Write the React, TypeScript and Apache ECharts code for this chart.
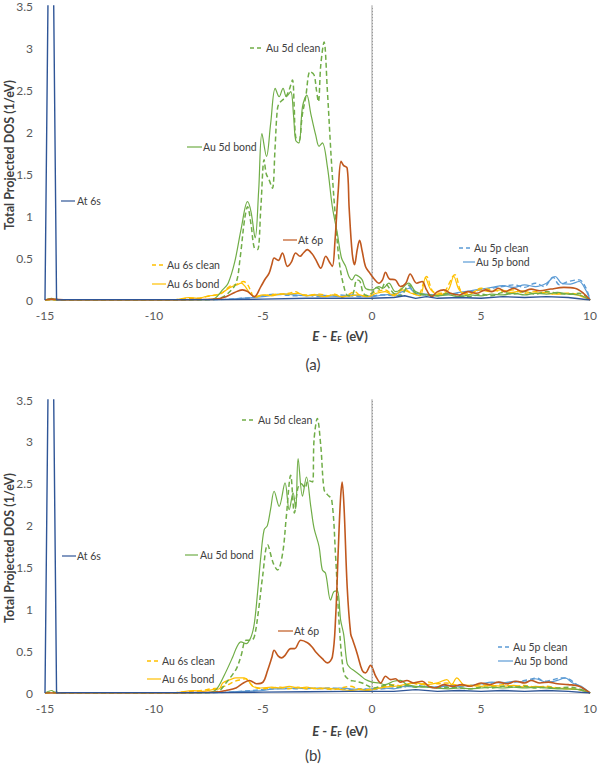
import React, { useEffect, useRef } from "react";
import * as echarts from "echarts";

// ---------- DATA: [E - EF (eV), DOS (1/eV)] ----------
const energyTicks = [-15, -10, -5, 0, 5, 10];
const dosTicks = [0, 0.5, 1, 1.5, 2, 2.5, 3, 3.5];

// Panel (a)
const at6sA = [[-15,0],[-14.97,0],[-14.73,7],[-14.47,0],[-14,0.005],[-10,0.005],[-7,0.005],[-5,0.01],[-3,0.02],[-1,0.02],[0,0.02],[1,0.03],[1.5,0.05],[2,0.02],[2.5,0.04],[3,0.02],[4,0.03],[5,0.02],[6,0.04],[7,0.03],[8,0.04],[9,0.03],[10,0]];
const at6pA = [[-15,0],[-14.7,0.01],[-14,0],[-10,0],[-8,0.005],[-7.2,0.01],[-6.7,0.04],[-6.3,0.09],[-5.95,0.12],[-5.7,0.1],[-5.4,0.04],[-5.1,0.16],[-4.9,0.25],[-4.72,0.32],[-4.6,0.42],[-4.49,0.5],[-4.3,0.47],[-4.11,0.56],[-3.88,0.4],[-3.7,0.45],[-3.5,0.56],[-3.3,0.52],[-3.15,0.56],[-2.97,0.6],[-2.75,0.55],[-2.58,0.48],[-2.35,0.38],[-2.12,0.52],[-1.95,0.45],[-1.82,0.4],[-1.7,0.7],[-1.55,1.3],[-1.42,1.65],[-1.3,1.6],[-1.14,1.57],[-1.05,1.1],[-0.91,0.56],[-0.8,0.42],[-0.68,0.6],[-0.57,0.71],[-0.45,0.58],[-0.3,0.4],[-0.1,0.32],[0.1,0.25],[0.31,0.2],[0.48,0.24],[0.62,0.33],[0.8,0.25],[1.07,0.24],[1.3,0.16],[1.55,0.2],[1.75,0.31],[2.05,0.2],[2.3,0.22],[2.5,0.12],[2.74,0.04],[3.0,0.1],[3.3,0.12],[3.6,0.08],[4.0,0.06],[4.4,0.1],[4.8,0.08],[5.2,0.12],[5.5,0.1],[5.8,0.14],[6.1,0.1],[6.5,0.14],[6.9,0.1],[7.3,0.13],[7.7,0.11],[8.2,0.13],[8.8,0.15],[9.3,0.14],[9.7,0.08],[10,0]];
const au5dCleanA = [[-15,0],[-14.7,0.01],[-14,0],[-10,0],[-7.5,0.005],[-7,0.02],[-6.6,0.08],[-6.24,0.2],[-6.05,0.5],[-5.85,0.95],[-5.71,1.11],[-5.55,0.9],[-5.4,0.62],[-5.25,0.6],[-5.1,1.1],[-4.95,1.67],[-4.85,1.5],[-4.72,1.43],[-4.57,1.33],[-4.45,1.8],[-4.35,2.25],[-4.26,2.34],[-3.95,2.42],[-3.8,2.5],[-3.65,2.62],[-3.57,2.3],[-3.5,1.94],[-3.35,1.9],[-3.2,2.2],[-3.04,2.42],[-2.84,2.72],[-2.66,2.68],[-2.55,2.5],[-2.46,2.36],[-2.35,2.8],[-2.2,3.07],[-2.05,2.5],[-1.85,1.6],[-1.67,0.95],[-1.5,0.45],[-1.29,0.16],[-1.1,0.05],[-0.9,0.06],[-0.69,0.24],[-0.55,0.22],[-0.4,0.08],[-0.2,0.05],[0,0.08],[0.2,0.15],[0.4,0.12],[0.6,0.2],[0.8,0.14],[1.0,0.08],[1.3,0.05],[1.7,0.18],[2.0,0.08],[2.5,0.06],[3,0.05],[3.5,0.08],[4,0.05],[4.5,0.04],[5,0.07],[5.5,0.05],[6,0.09],[6.5,0.07],[7,0.1],[7.5,0.07],[8,0.1],[8.5,0.08],[9,0.07],[9.5,0.08],[10,0]];
const au5dBondA = [[-15,0],[-14.7,0.02],[-14.5,0],[-10,0],[-7.5,0.005],[-7.2,0.02],[-6.86,0.12],[-6.6,0.2],[-6.3,0.45],[-6.0,0.85],[-5.71,1.17],[-5.55,1.05],[-5.36,0.74],[-5.2,1.3],[-5.05,1.98],[-4.84,1.71],[-4.65,2.1],[-4.44,2.52],[-4.26,2.42],[-4.08,2.52],[-3.93,2.42],[-3.73,2.48],[-3.6,2.2],[-3.5,1.9],[-3.35,1.87],[-3.19,2.3],[-2.99,2.44],[-2.81,2.22],[-2.58,1.96],[-2.43,1.83],[-2.28,1.87],[-2.05,1.59],[-1.82,1.11],[-1.59,0.79],[-1.4,0.5],[-1.21,0.4],[-1.06,0.28],[-0.92,0.24],[-0.75,0.3],[-0.6,0.28],[-0.45,0.24],[-0.3,0.14],[0,0.12],[0.31,0.16],[0.5,0.14],[0.77,0.2],[1.07,0.1],[1.3,0.12],[1.68,0.2],[2.0,0.1],[2.5,0.06],[3,0.05],[3.5,0.06],[4,0.04],[4.5,0.06],[5,0.05],[5.5,0.07],[6,0.06],[6.5,0.08],[7,0.06],[7.5,0.08],[8,0.07],[8.5,0.09],[9,0.07],[9.5,0.06],[10,0]];
const au6sCleanA = [[-15,0],[-10,0],[-9,0.005],[-8.5,0.02],[-8,0.02],[-7.6,0.04],[-7.2,0.06],[-6.9,0.08],[-6.54,0.16],[-6.3,0.18],[-6.09,0.2],[-5.9,0.22],[-5.7,0.18],[-5.55,0.1],[-5.4,0.03],[-5.1,0.05],[-4.72,0.06],[-4.3,0.07],[-3.8,0.08],[-3.5,0.1],[-3.2,0.06],[-2.8,0.06],[-2.4,0.07],[-2.0,0.05],[-1.7,0.07],[-1.4,0.03],[-1.1,0.06],[-0.8,0.1],[-0.5,0.05],[-0.2,0.06],[0.2,0.1],[0.6,0.12],[1.0,0.06],[1.4,0.14],[1.7,0.1],[2.1,0.06],[2.5,0.28],[2.8,0.1],[3.2,0.08],[3.8,0.3],[4.1,0.1],[4.5,0.08],[5.0,0.14],[5.5,0.12],[6,0.1],[6.5,0.12],[7,0.08],[7.5,0.1],[8,0.08],[8.5,0.07],[9,0.08],[9.5,0.06],[10,0]];
const au6sBondA = [[-15,0],[-10,0],[-9,0.005],[-8.4,0.03],[-8,0.02],[-7.5,0.05],[-7.1,0.06],[-6.8,0.1],[-6.5,0.15],[-6.2,0.18],[-6.0,0.2],[-5.85,0.17],[-5.6,0.08],[-5.4,0.04],[-5.0,0.06],[-4.6,0.05],[-4.2,0.07],[-3.8,0.07],[-3.4,0.08],[-3.0,0.05],[-2.6,0.06],[-2.2,0.04],[-1.8,0.06],[-1.4,0.04],[-1.0,0.05],[-0.6,0.06],[-0.2,0.04],[0.2,0.08],[0.6,0.1],[1.0,0.05],[1.4,0.12],[1.8,0.08],[2.2,0.05],[2.45,0.26],[2.7,0.12],[3.1,0.06],[3.5,0.12],[3.75,0.28],[4.0,0.12],[4.4,0.06],[4.9,0.12],[5.4,0.1],[5.9,0.12],[6.4,0.09],[6.9,0.11],[7.4,0.08],[7.9,0.09],[8.4,0.07],[8.9,0.08],[9.4,0.06],[10,0]];
const au5pCleanA = [[-15,0],[-10,0],[-7,0.005],[-6,0.02],[-5.5,0.03],[-5,0.05],[-4.5,0.07],[-4,0.06],[-3.5,0.05],[-3,0.06],[-2.5,0.04],[-2,0.05],[-1.5,0.06],[-1,0.05],[-0.5,0.04],[0,0.05],[0.5,0.06],[1,0.05],[1.4,0.08],[1.68,0.16],[2,0.08],[2.5,0.06],[3,0.05],[3.5,0.08],[4,0.07],[4.5,0.1],[5,0.12],[5.5,0.14],[6,0.16],[6.5,0.18],[7,0.15],[7.5,0.2],[7.9,0.16],[8.3,0.27],[8.6,0.18],[9,0.22],[9.5,0.24],[9.8,0.15],[10,0]];
const au5pBondA = [[-15,0],[-10,0],[-7,0.005],[-6,0.02],[-5.5,0.03],[-5,0.04],[-4.5,0.06],[-4,0.07],[-3.5,0.06],[-3,0.05],[-2.5,0.06],[-2,0.05],[-1.5,0.04],[-1,0.06],[-0.5,0.05],[0,0.04],[0.5,0.06],[1,0.07],[1.4,0.1],[1.7,0.14],[2,0.08],[2.5,0.07],[3,0.06],[3.5,0.07],[4,0.09],[4.5,0.11],[5,0.13],[5.5,0.15],[6,0.17],[6.5,0.15],[7,0.18],[7.5,0.16],[8,0.2],[8.4,0.28],[8.7,0.2],[9.1,0.19],[9.5,0.22],[9.8,0.12],[10,0]];

// Panel (b)
const at6sB = [[-15,0],[-14.97,0],[-14.73,7],[-14.47,0],[-14,0.005],[-10,0.005],[-7,0.005],[-5,0.01],[-3,0.015],[-1,0.02],[0,0.02],[1,0.02],[2,0.04],[3,0.02],[4,0.03],[5,0.02],[6,0.03],[7,0.02],[8,0.03],[9,0.02],[10,0]];
const at6pB = [[-15,0],[-14,0],[-10,0],[-8,0.005],[-7.15,0.01],[-6.7,0.03],[-6.24,0.06],[-5.9,0.12],[-5.63,0.15],[-5.45,0.13],[-5.3,0.11],[-5.0,0.13],[-4.79,0.27],[-4.6,0.42],[-4.49,0.51],[-4.3,0.44],[-4.15,0.42],[-3.99,0.45],[-3.73,0.53],[-3.55,0.53],[-3.27,0.63],[-2.96,0.6],[-2.75,0.55],[-2.58,0.49],[-2.28,0.41],[-2.05,0.36],[-1.82,0.43],[-1.67,0.9],[-1.55,1.7],[-1.45,2.3],[-1.37,2.52],[-1.28,2.2],[-1.14,1.27],[-0.98,0.71],[-0.88,0.63],[-0.68,0.47],[-0.45,0.27],[-0.3,0.24],[-0.07,0.33],[0.17,0.2],[0.4,0.12],[0.62,0.2],[0.85,0.16],[1.07,0.17],[1.3,0.13],[1.6,0.15],[1.9,0.12],[2.3,0.14],[2.6,0.08],[2.9,0.06],[3.3,0.1],[3.7,0.08],[4.1,0.1],[4.5,0.08],[5.0,0.12],[5.4,0.1],[5.8,0.13],[6.2,0.11],[6.6,0.14],[7.0,0.12],[7.3,0.15],[7.7,0.12],[8.1,0.13],[8.5,0.11],[9.0,0.1],[9.5,0.08],[10,0]];
const au5dCleanB = [[-15,0],[-14.7,0.01],[-14,0],[-10,0],[-7.5,0.005],[-7.0,0.03],[-6.7,0.12],[-6.4,0.22],[-6.2,0.3],[-6.0,0.45],[-5.78,0.63],[-5.55,0.63],[-5.4,0.67],[-5.2,1.0],[-5.02,1.39],[-4.79,1.77],[-4.53,1.55],[-4.33,1.47],[-4.1,1.67],[-3.93,2.11],[-3.73,2.6],[-3.56,2.15],[-3.4,2.45],[-3.24,2.5],[-3.08,2.45],[-2.92,2.54],[-2.73,2.52],[-2.66,3.02],[-2.51,3.28],[-2.35,2.95],[-2.2,2.43],[-2.05,2.37],[-1.85,2.31],[-1.67,1.63],[-1.5,0.8],[-1.29,0.24],[-1.06,0.16],[-0.76,0.14],[-0.45,0.12],[-0.15,0.08],[0.1,0.06],[0.4,0.08],[0.8,0.1],[1.2,0.07],[1.6,0.09],[2.0,0.07],[2.5,0.08],[3,0.06],[3.5,0.07],[4,0.06],[4.5,0.05],[5,0.07],[5.5,0.06],[6,0.08],[6.5,0.07],[7,0.08],[7.5,0.06],[8,0.07],[8.5,0.06],[9,0.07],[9.5,0.05],[10,0]];
const au5dBondB = [[-15,0],[-14.7,0.03],[-14.5,0],[-10,0],[-7.5,0.005],[-7.15,0.04],[-6.8,0.2],[-6.39,0.43],[-6.2,0.55],[-6.01,0.61],[-5.78,0.59],[-5.55,0.67],[-5.4,0.83],[-5.25,1.2],[-5.1,1.63],[-4.95,1.95],[-4.8,2.0],[-4.65,2.2],[-4.49,2.41],[-4.26,2.23],[-3.99,2.51],[-3.8,2.19],[-3.62,2.39],[-3.5,2.2],[-3.39,2.8],[-3.19,2.35],[-3.01,2.58],[-2.81,2.23],[-2.66,1.97],[-2.43,1.75],[-2.28,1.47],[-2.13,1.43],[-1.9,1.11],[-1.75,1.21],[-1.59,1.22],[-1.44,0.87],[-1.3,0.7],[-1.14,0.35],[-1.0,0.3],[-0.83,0.27],[-0.53,0.21],[-0.3,0.16],[0,0.13],[0.31,0.12],[0.6,0.1],[1.0,0.14],[1.3,0.15],[1.6,0.1],[2.0,0.08],[2.5,0.07],[3,0.06],[3.5,0.05],[4,0.06],[4.5,0.05],[5,0.06],[5.5,0.07],[6,0.06],[6.5,0.07],[7,0.06],[7.5,0.07],[8,0.06],[8.5,0.05],[9,0.05],[9.5,0.04],[10,0]];
const au6sCleanB = [[-15,0],[-10,0],[-9,0.005],[-8.3,0.02],[-7.8,0.03],[-7.4,0.05],[-7.0,0.06],[-6.6,0.1],[-6.3,0.14],[-6.0,0.16],[-5.8,0.17],[-5.6,0.12],[-5.4,0.07],[-5.0,0.05],[-4.6,0.06],[-4.2,0.07],[-3.8,0.05],[-3.4,0.07],[-3.0,0.05],[-2.6,0.06],[-2.2,0.05],[-1.8,0.04],[-1.4,0.06],[-1.0,0.08],[-0.6,0.05],[-0.2,0.04],[0.2,0.06],[0.6,0.08],[1.0,0.1],[1.4,0.08],[1.8,0.12],[2.2,0.1],[2.6,0.13],[3.0,0.11],[3.4,0.12],[3.8,0.1],[4.2,0.09],[4.6,0.08],[5.0,0.1],[5.5,0.08],[6.0,0.1],[6.5,0.08],[7,0.09],[7.5,0.07],[8,0.08],[8.5,0.06],[9,0.05],[9.5,0.04],[10,0]];
const au6sBondB = [[-15,0],[-10,0],[-9,0.005],[-8.2,0.03],[-7.8,0.02],[-7.3,0.04],[-7.0,0.05],[-6.85,0.12],[-6.5,0.16],[-6.24,0.18],[-5.86,0.18],[-5.65,0.14],[-5.48,0.08],[-5.1,0.06],[-4.6,0.07],[-4.2,0.06],[-3.8,0.08],[-3.4,0.06],[-3.0,0.07],[-2.6,0.05],[-2.2,0.06],[-1.8,0.05],[-1.4,0.04],[-1.0,0.03],[-0.6,0.04],[-0.2,0.03],[0.2,0.05],[0.6,0.07],[1.0,0.08],[1.5,0.1],[2.0,0.12],[2.5,0.1],[3.0,0.12],[3.43,0.16],[3.65,0.1],[3.89,0.18],[4.2,0.1],[4.6,0.09],[5.0,0.08],[5.5,0.09],[6.0,0.08],[6.5,0.09],[7,0.07],[7.5,0.08],[8,0.07],[8.5,0.06],[9,0.05],[9.5,0.04],[10,0]];
const au5pCleanB = [[-15,0],[-10,0],[-7,0.005],[-6,0.02],[-5,0.04],[-4.5,0.05],[-4,0.06],[-3.5,0.05],[-3,0.06],[-2.5,0.05],[-2,0.06],[-1.5,0.05],[-1,0.04],[-0.5,0.05],[0,0.04],[0.5,0.05],[1,0.06],[1.5,0.07],[1.9,0.12],[2.3,0.08],[2.8,0.07],[3.3,0.08],[3.8,0.07],[4.3,0.08],[4.8,0.1],[5.3,0.11],[5.8,0.13],[6.3,0.12],[6.8,0.14],[7.2,0.16],[7.55,0.18],[7.9,0.14],[8.3,0.16],[8.7,0.18],[9.0,0.17],[9.4,0.1],[10,0]];
const au5pBondB = [[-15,0],[-10,0],[-7,0.005],[-6,0.02],[-5,0.03],[-4.5,0.05],[-4,0.05],[-3.5,0.06],[-3,0.05],[-2.5,0.06],[-2,0.05],[-1.5,0.06],[-1,0.05],[-0.5,0.04],[0,0.05],[0.5,0.06],[1,0.05],[1.5,0.08],[2,0.07],[2.5,0.08],[3,0.07],[3.5,0.09],[4,0.08],[4.5,0.09],[5,0.11],[5.5,0.13],[6,0.12],[6.5,0.14],[7,0.13],[7.5,0.17],[8,0.13],[8.5,0.15],[8.85,0.18],[9.2,0.12],[9.6,0.08],[10,0]];

// ---------- STYLE ----------
const C_AT6S = "#2F5597";
const C_AT6P = "#C0581E";
const C_5D = "#70AD47";
const C_6S = "#FFC000";
const C_5P = "#5B9BD5";
const FONT = "Lato, 'Open Sans', sans-serif";
const TXT = "#404040";

function line(name: string, data: number[][], color: string, dashed: boolean, width: number, idx: number, smooth: number | boolean = 0.35) {
  return {
    type: "line",
    name,
    data,
    xAxisIndex: idx,
    yAxisIndex: idx,
    showSymbol: false,
    symbol: "none",
    smooth,
    clip: true,
    lineStyle: { color, width, type: dashed ? [5, 3] : "solid" },
    emphasis: { disabled: true },
    silent: true,
  };
}

function panelSeries(idx: number, d: any) {
  return [
    line("Au 5p clean", d.p5c, C_5P, true, 1.4, idx),
    line("Au 5p bond", d.p5b, C_5P, false, 1.2, idx),
    line("Au 6s clean", d.s6c, C_6S, true, 1.4, idx),
    line("Au 6s bond", d.s6b, C_6S, false, 1.2, idx),
    line("Au 5d clean", d.d5c, C_5D, true, 1.5, idx),
    line("Au 5d bond", d.d5b, C_5D, false, 1.2, idx),
    line("At 6p", d.p6, C_AT6P, false, 1.6, idx),
    {
      ...line("At 6s", d.s6, C_AT6S, false, 1.4, idx, false),
      markLine: {
        symbol: "none",
        silent: true,
        label: { show: false },
        lineStyle: { color: "#9A9A9A", type: [1, 2], width: 1 },
        data: [{ xAxis: 0 }],
      },
    },
  ];
}

function legendItem(x1: number, x2: number, y: number, color: string, dashed: boolean, text: string, tx: number) {
  return [
    {
      type: "line",
      shape: { x1, y1: y, x2, y2: y },
      style: { stroke: color, lineWidth: dashed ? 1.5 : 1.2, lineDash: dashed ? [4, 3] : null },
      silent: true,
    },
    {
      type: "text",
      x: tx,
      y,
      style: { text, fill: TXT, font: `10.5px ${FONT}`, textVerticalAlign: "middle", verticalAlign: "middle" },
      silent: true,
    },
  ];
}

function xTitle(y: number) {
  return {
    type: "text",
    x: 340,
    y,
    style: {
      text: "{i|E} - {i|E}{s|F} (eV)",
      align: "center",
      verticalAlign: "middle",
      fill: TXT,
      font: `bold 13px ${FONT}`,
      rich: {
        i: { fontStyle: "italic", fontWeight: "bold", fontSize: 13, fontFamily: FONT, fill: TXT },
        s: { fontWeight: "bold", fontSize: 8, fontFamily: FONT, fill: TXT, padding: [6, 1, 0, 0] },
      },
    },
    silent: true,
  };
}

function yTitle(y: number) {
  return {
    type: "text",
    x: 9,
    y,
    rotation: Math.PI / 2,
    style: {
      text: "Total Projected DOS (1/eV)",
      align: "center",
      verticalAlign: "middle",
      fill: TXT,
      font: `bold 12.5px ${FONT}`,
    },
    silent: true,
  };
}

export default function App() {
  const ref = useRef<HTMLDivElement>(null);
  useEffect(() => {
    if (!ref.current) return;
    const chart = echarts.init(ref.current, undefined, { renderer: "svg" });
    const xAx = (gi: number) => ({
      type: "value",
      gridIndex: gi,
      min: energyTicks[0],
      max: energyTicks[energyTicks.length - 1],
      interval: 5,
      axisLine: { show: true, lineStyle: { color: "#D9D9D9", width: 1 } },
      axisTick: { show: false },
      splitLine: { show: false },
      axisLabel: { color: "#595959", fontSize: 12, fontFamily: FONT, margin: 9 },
    });
    const yAx = (gi: number) => ({
      type: "value",
      gridIndex: gi,
      min: dosTicks[0],
      max: dosTicks[dosTicks.length - 1],
      interval: 0.5,
      axisLine: { show: true, lineStyle: { color: "#D0D0D0", width: 2 } },
      axisTick: { show: false },
      splitLine: { show: false },
      axisLabel: { color: "#595959", fontSize: 12, fontFamily: FONT, margin: 12 },
    });
    const option: any = {
      animation: false,
      grid: [
        { left: 45, top: 6, width: 547, height: 294 },
        { left: 45, top: 400, width: 547, height: 293 },
      ],
      xAxis: [xAx(0), xAx(1)],
      yAxis: [yAx(0), yAx(1)],
      series: [
        ...panelSeries(0, { p5c: au5pCleanA, p5b: au5pBondA, s6c: au6sCleanA, s6b: au6sBondA, d5c: au5dCleanA, d5b: au5dBondA, p6: at6pA, s6: at6sA }),
        ...panelSeries(1, { p5c: au5pCleanB, p5b: au5pBondB, s6c: au6sCleanB, s6b: au6sBondB, d5c: au5dCleanB, d5b: au5dBondB, p6: at6pB, s6: at6sB }),
      ],
      graphic: [
        // Panel (a) labels
        ...legendItem(250, 263, 48, C_5D, true, "Au 5d clean", 266),
        ...legendItem(187, 202, 147, C_5D, false, "Au 5d bond", 203),
        ...legendItem(61, 75, 201, C_AT6S, false, "At 6s", 77),
        ...legendItem(283, 297, 240, C_AT6P, false, "At 6p", 298),
        ...legendItem(152, 163, 265, C_6S, true, "Au 6s clean", 167),
        ...legendItem(152, 166, 284, C_6S, false, "Au 6s bond", 167),
        ...legendItem(459, 472, 248, C_5P, true, "Au 5p clean", 474),
        ...legendItem(463, 475, 262, C_5P, false, "Au 5p bond", 476),
        // Panel (b) labels
        ...legendItem(242, 255, 420, C_5D, true, "Au 5d clean", 258),
        ...legendItem(185, 198, 555, C_5D, false, "Au 5d bond", 200),
        ...legendItem(62, 76, 556, C_AT6S, false, "At 6s", 77),
        ...legendItem(278, 293, 631, C_AT6P, false, "At 6p", 294),
        ...legendItem(147, 158, 661, C_6S, true, "Au 6s clean", 162),
        ...legendItem(147, 161, 679, C_6S, false, "Au 6s bond", 162),
        ...legendItem(498, 510, 647, C_5P, true, "Au 5p clean", 513),
        ...legendItem(498, 513, 661, C_5P, false, "Au 5p bond", 514),
        xTitle(336),
        xTitle(731),
        yTitle(155),
        yTitle(548),
        { type: "text", x: 313, y: 364, style: { text: "(a)", align: "center", verticalAlign: "middle", fill: TXT, font: `15px ${FONT}` }, silent: true },
        { type: "text", x: 313, y: 755, style: { text: "(b)", align: "center", verticalAlign: "middle", fill: TXT, font: `15px ${FONT}` }, silent: true },
      ],
    };
    chart.setOption(option);
    return () => chart.dispose();
  }, []);
  return <div ref={ref} style={{ position: "fixed", left: 0, top: 0, width: 600, height: 766, background: "#fff" }} />;
}
